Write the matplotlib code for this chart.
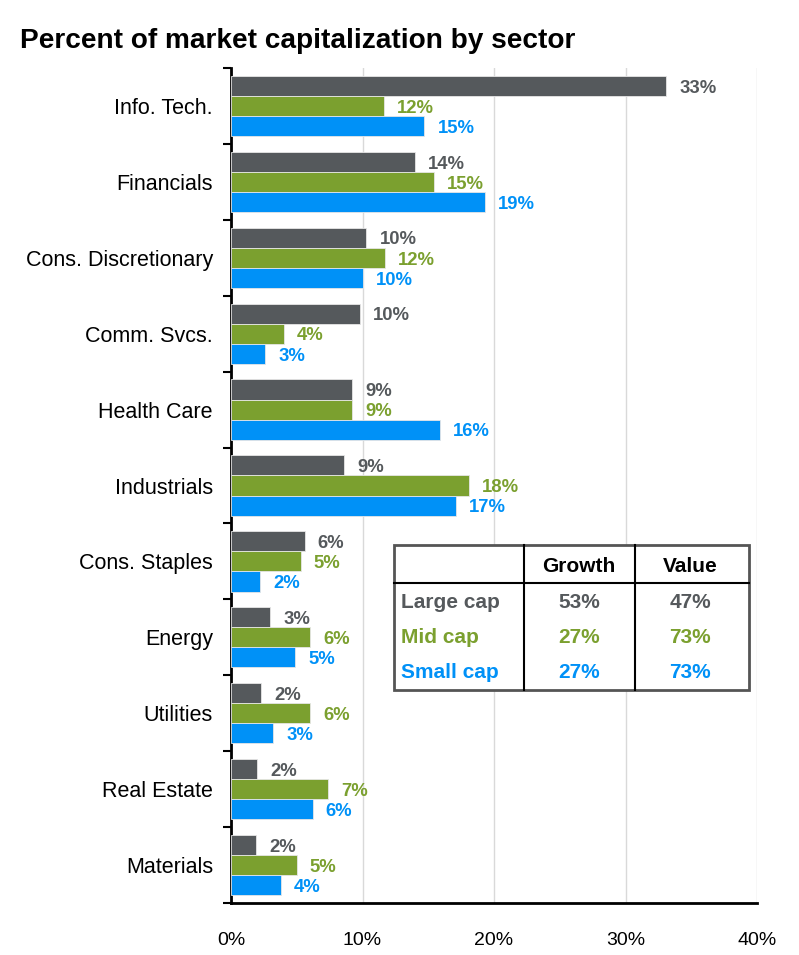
import numpy as np
import matplotlib.pyplot as plt
from matplotlib.patches import Rectangle
from matplotlib.lines import Line2D

plt.rcParams['font.family'] = ['Liberation Sans', 'DejaVu Sans']

sectors = ['Info. Tech.', 'Financials', 'Cons. Discretionary', 'Comm. Svcs.',
           'Health Care', 'Industrials', 'Cons. Staples', 'Energy', 'Utilities',
           'Real Estate', 'Materials']
large_cap = [33.1, 14.0, 10.3, 9.8, 9.2, 8.6, 5.6, 3.0, 2.3, 2.0, 1.9]
mid_cap = [11.6, 15.4, 11.7, 4.0, 9.2, 18.1, 5.3, 6.0, 6.0, 7.4, 5.0]
small_cap = [14.7, 19.3, 10.0, 2.6, 15.9, 17.1, 2.2, 4.9, 3.2, 6.2, 3.8]

series_names = ['Large cap', 'Mid cap', 'Small cap']
growth_share = ['53%', '27%', '27%']
value_share = ['47%', '73%', '73%']

colors = ['#55595c', '#7ba02f', '#0091f7']

fig = plt.figure(figsize=(7.99, 9.55), dpi=100)
ax = fig.add_axes([231/799, 1-903/955, 526/799, 835/955])

y = np.arange(len(sectors))
h = 0.265
for i, (vals, col) in enumerate(zip((large_cap, mid_cap, small_cap), colors)):
    pos = y + (i - 1) * h
    ax.barh(pos, vals, height=h, color=col, edgecolor='#e6e6e6', linewidth=0.6, zorder=3)
    for p, v in zip(pos, vals):
        ax.text(v + 1.0, p + 0.03, '%d%%' % round(v), color=col, fontsize=13.3,
                fontweight='bold', va='center', ha='left', zorder=4)

ax.set_ylim(len(sectors) - 0.5, -0.5)
ax.set_xlim(0, 40)
ax.set_xticks([0, 10, 20, 30, 40])
ax.set_xticklabels(['0%', '10%', '20%', '30%', '40%'], fontsize=14)
ax.set_yticks(y)
ax.set_yticklabels(sectors, fontsize=15.5)
ax.set_yticks(np.arange(len(sectors) + 1) - 0.5, minor=True)
ax.tick_params(axis='y', which='major', length=0, pad=13)
ax.tick_params(axis='y', which='minor', length=6, width=1.5, direction='out')
ax.tick_params(axis='x', length=0, pad=21)
ax.grid(axis='x', color='#d9d9d9', linewidth=1, zorder=0)
for s in ('top', 'right'):
    ax.spines[s].set_visible(False)
ax.spines['left'].set_linewidth(2)
ax.spines['bottom'].set_linewidth(2)

fig.text(20/799, 1-41/955, 'Percent of market capitalization by sector',
         fontsize=20.2, fontweight='bold', va='center', ha='left')

# inset table (pixel coordinates of the figure)
def fx(px):
    return px / 799

def fy(py):
    return 1 - py / 955

box = Rectangle((fx(394), fy(690)), fx(749) - fx(394), fy(545) - fy(690),
                transform=fig.transFigure, facecolor='white', edgecolor='#555555',
                linewidth=2, zorder=5)
fig.patches.append(box)
for xs, ys in (([394, 749], [583, 583]), ([524, 524], [545, 690]), ([635, 635], [545, 690])):
    fig.lines.append(Line2D([fx(v) for v in xs], [fy(v) for v in ys],
                            transform=fig.transFigure, color='black', linewidth=1.5, zorder=6))

fig.text(fx(579), fy(567), 'Growth', fontsize=15, fontweight='bold', ha='center', va='center', zorder=7)
fig.text(fx(690), fy(567), 'Value', fontsize=15, fontweight='bold', ha='center', va='center', zorder=7)
row_y = [603, 637, 672]
for name, g, v, col, ry in zip(series_names, growth_share, value_share, colors, row_y):
    fig.text(fx(401), fy(ry), name, fontsize=15, fontweight='bold', color=col, ha='left', va='center', zorder=7)
    fig.text(fx(579), fy(ry), g, fontsize=15, fontweight='bold', color=col, ha='center', va='center', zorder=7)
    fig.text(fx(690), fy(ry), v, fontsize=15, fontweight='bold', color=col, ha='center', va='center', zorder=7)

fig.savefig('out.png', dpi=100)
